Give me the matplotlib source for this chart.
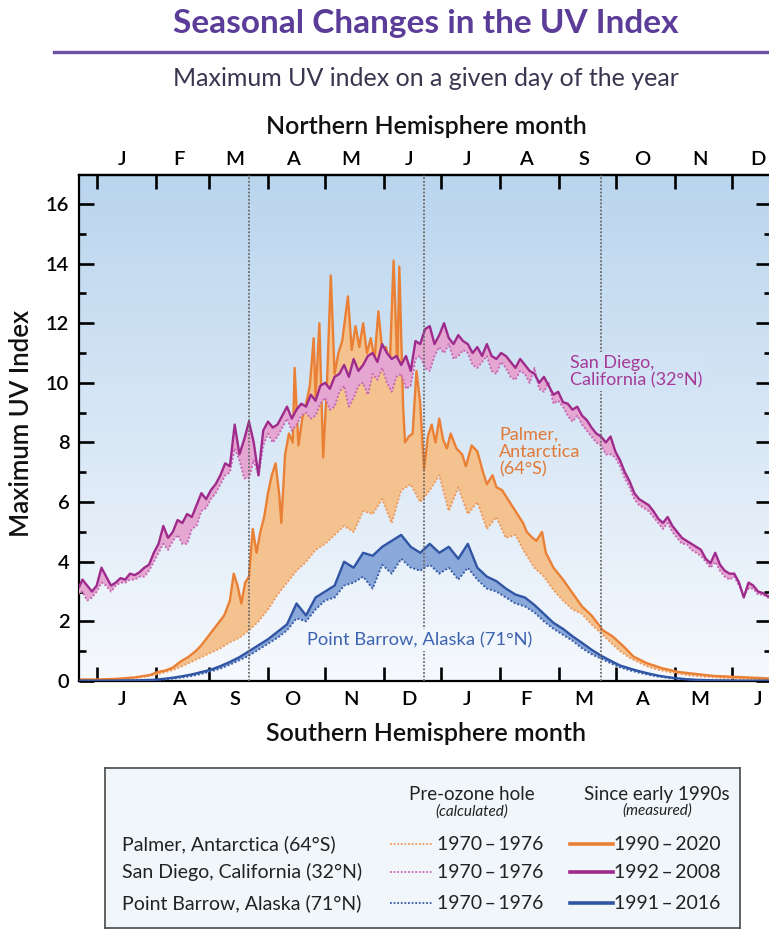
import numpy as np
import matplotlib.pyplot as plt
from matplotlib.colors import LinearSegmentedColormap
from matplotlib.lines import Line2D

plt.rcParams['font.family'] = ['Lato', 'DejaVu Sans']

# day of year on the Northern Hemisphere calendar (0 = Jan 1), every 5 days
days = list(range(-10, 356, 5))
# San Diego is read at a finer step (every 2.5 days) to keep its jitter
sd_days = list(np.arange(-10, 355.1, 2.5))

# San Diego, California (32N)
sd_measured = [3.05, 3.4, 3.2, 3.0, 3.2, 3.8, 3.5, 3.2, 3.3, 3.45,
               3.4, 3.6, 3.55, 3.65, 3.8, 3.9, 4.3, 4.6, 5.2, 4.8,
               5.0, 5.4, 5.3, 5.6, 5.5, 5.9, 6.3, 6.1, 6.4, 6.6,
               6.9, 7.3, 7.2, 8.6, 7.6, 8.1, 8.7, 8.0, 6.9, 8.4,
               8.7, 8.5, 8.6, 8.9, 9.2, 8.8, 9.1, 9.3, 9.2, 9.6,
               9.4, 9.9, 10.0, 9.8, 10.2, 10.3, 10.6, 10.2, 10.8, 10.4,
               10.6, 10.9, 11.0, 10.7, 11.3, 11.0, 10.8, 10.9, 10.6, 10.9,
               10.4, 11.4, 11.3, 11.8, 11.9, 11.3, 11.6, 12.0, 11.5, 11.3,
               11.6, 11.4, 11.3, 11.0, 11.2, 10.9, 11.3, 10.9, 10.8, 11.0,
               10.9, 10.7, 10.5, 10.8, 10.6, 10.4, 10.3, 10.0, 10.2, 9.9,
               9.6, 9.7, 9.35, 9.3, 9.1, 9.2, 8.9, 8.75, 8.5, 8.3,
               8.2, 8.0, 8.2, 7.7, 7.4, 7.0, 6.7, 6.3, 6.1, 6.0,
               5.9, 5.7, 5.45, 5.3, 5.5, 5.2, 5.0, 4.8, 4.7, 4.6,
               4.5, 4.4, 4.1, 3.95, 4.3, 3.9, 3.7, 3.6, 3.6, 3.3,
               2.8, 3.3, 3.2, 3.0, 2.95, 2.85, 2.8]
sd_pre = [2.9, 3.0, 2.7, 2.8, 3.0, 3.3, 3.2, 3.0, 3.2, 3.3,
          3.3, 3.4, 3.4, 3.5, 3.5, 3.7, 4.0, 4.3, 4.6, 4.4,
          4.7, 4.9, 4.6, 4.6, 5.1, 5.2, 5.7, 5.8, 6.1, 6.3,
          6.6, 6.9, 7.0, 7.8, 7.4, 6.8, 6.8, 7.4, 6.9, 7.9,
          8.3, 8.0, 8.2, 8.5, 8.8, 8.4, 8.6, 8.9, 9.0, 8.8,
          8.9, 9.3, 9.5, 9.1, 9.2, 9.7, 9.9, 9.2, 9.5, 9.9,
          10.0, 9.6, 10.3, 10.1, 10.5, 10.0, 9.7, 10.2, 10.3, 9.8,
          9.9, 10.8, 10.9, 10.5, 10.4, 10.9, 11.2, 11.0, 11.3, 10.8,
          10.9, 11.1, 11.0, 10.6, 10.5, 10.7, 10.9, 10.4, 10.3, 10.7,
          10.5, 10.2, 10.1, 10.4, 10.3, 10.0, 10.5, 9.8, 9.7, 10.0,
          9.3, 9.4, 9.2, 8.9, 8.7, 8.9, 8.6, 8.4, 8.2, 8.0,
          7.9, 7.6, 7.6, 7.5, 7.2, 6.8, 6.5, 6.1, 5.9, 5.8,
          5.7, 5.5, 5.3, 5.1, 5.3, 5.0, 4.8, 4.6, 4.6, 4.4,
          4.3, 4.2, 4.0, 3.8, 4.0, 3.7, 3.5, 3.4, 3.5, 3.2,
          2.9, 3.1, 3.1, 2.9, 2.9, 2.8, 2.8]

# Point Barrow, Alaska (71N)
pb_measured = [0.01, 0.01, 0.01, 0.01, 0.01, 0.02, 0.02, 0.03, 0.04, 0.07,
               0.11, 0.16, 0.22, 0.3, 0.38, 0.5, 0.64, 0.8, 1.0, 1.2,
               1.4, 1.65, 1.9, 2.6, 2.2, 2.8, 3.0, 3.2, 4.0, 3.8,
               4.3, 4.2, 4.5, 4.7, 4.9, 4.5, 4.3, 4.6, 4.3, 4.5,
               4.1, 4.6, 3.8, 3.5, 3.35, 3.1, 2.9, 2.8, 2.55, 2.25,
               1.95, 1.75, 1.5, 1.28, 1.05, 0.85, 0.68, 0.52, 0.42, 0.33,
               0.25, 0.18, 0.13, 0.09, 0.06, 0.04, 0.03, 0.02, 0.02, 0.01,
               0.01, 0.01, 0.01, 0.01]
pb_pre = [0.0, 0.0, 0.0, 0.0, 0.0, 0.01, 0.01, 0.02, 0.03, 0.05,
          0.08, 0.12, 0.17, 0.24, 0.32, 0.42, 0.55, 0.7, 0.85, 1.05,
          1.25, 1.45, 1.7, 2.1, 2.0, 2.4, 2.7, 2.8, 3.2, 3.3,
          3.5, 3.1, 3.9, 3.6, 4.1, 3.8, 3.7, 3.9, 3.6, 3.8,
          3.4, 3.8, 3.4, 3.1, 3.0, 2.8, 2.6, 2.5, 2.3, 2.0,
          1.75, 1.55, 1.35, 1.1, 0.9, 0.75, 0.6, 0.46, 0.36, 0.28,
          0.21, 0.15, 0.11, 0.08, 0.05, 0.03, 0.02, 0.01, 0.01, 0.01,
          0.0, 0.0, 0.0, 0.0]

# Palmer, Antarctica (64S), shifted half a year onto the northern calendar
pa_pre = [0.03, 0.03, 0.04, 0.04, 0.05, 0.07, 0.1, 0.14, 0.2, 0.28,
          0.37, 0.5, 0.65, 0.8, 0.95, 1.1, 1.3, 1.45, 1.7, 2.0,
          2.4, 2.9, 3.3, 3.7, 4.0, 4.4, 4.6, 4.9, 5.2, 5.0,
          5.7, 5.6, 6.1, 5.3, 6.4, 6.6, 6.0, 6.4, 6.9, 5.7,
          6.5, 5.6, 6.0, 5.1, 5.5, 4.8, 4.9, 4.3, 3.8, 3.5,
          3.05, 2.7, 2.4, 2.25, 1.9, 1.6, 1.3, 1.0, 0.78, 0.62,
          0.47, 0.38, 0.31, 0.26, 0.2, 0.17, 0.14, 0.12, 0.1, 0.08,
          0.07, 0.06, 0.05, 0.05]
# measured series kept at uneven days so the spikes survive
pa_days = [-10, 0, 10, 20, 28, 32, 36, 40, 44, 48, 52, 55, 58, 61, 64, 67, 70,
           72, 74, 76, 78, 80, 82, 84, 86, 88, 90, 92, 94, 96, 97, 99, 101,
           103, 104, 106, 108, 110, 112, 114, 115, 117, 119, 121, 123, 125,
           127, 129, 132, 134, 136, 138, 140, 142, 144, 146, 148, 150, 152,
           154, 156, 158, 159, 161, 162, 164, 166, 168, 170, 172, 174, 176,
           178, 180, 182, 184, 186, 189, 192, 194, 197, 200, 203, 205, 208,
           210, 213, 215, 218, 221, 224, 226, 229, 231, 234, 236, 240, 245,
           250, 255, 260, 266, 271, 277, 282, 289, 297, 306, 324, 342, 355]
pa_measured = [0.05, 0.05, 0.07, 0.12, 0.2, 0.3, 0.35, 0.45, 0.65, 0.8, 1.0,
               1.2, 1.45, 1.7, 1.95, 2.2, 2.7, 3.6, 3.2, 2.6, 3.3, 3.5, 5.1,
               4.3, 5.0, 5.5, 6.3, 6.9, 7.3, 6.2, 5.3, 7.6, 8.3, 8.0, 10.5,
               7.9, 8.8, 9.3, 9.9, 11.5, 9.5, 12.0, 7.5, 10.0, 13.6, 10.3,
               11.0, 11.4, 12.9, 11.1, 11.9, 11.2, 12.0, 11.0, 11.5, 10.8,
               12.4, 11.1, 11.2, 10.6, 14.1, 10.5, 13.9, 9.2, 8.0, 8.2, 8.3,
               10.4, 9.3, 7.1, 8.2, 8.6, 8.0, 8.8, 8.1, 7.8, 8.3, 7.8, 7.6,
               7.2, 7.9, 7.7, 7.0, 6.6, 6.9, 6.5, 6.4, 6.2, 5.9, 5.6, 5.3,
               5.0, 4.8, 4.7, 5.0, 4.3, 3.8, 3.4, 2.95, 2.5, 2.2, 1.7, 1.5,
               1.15, 0.82, 0.6, 0.43, 0.3, 0.17, 0.12, 0.08]

month_starts = [0, 31, 59, 90, 120, 151, 181, 212, 243, 273, 304, 334]
north_months = ['J', 'F', 'M', 'A', 'M', 'J', 'J', 'A', 'S', 'O', 'N', 'D']
south_months = ['J', 'A', 'S', 'O', 'N', 'D', 'J', 'F', 'M', 'A', 'M', 'J']
equinox_solstice = [80, 172, 265]

W, H = 769, 930
fig = plt.figure(figsize=(W / 100, H / 100), dpi=100)
ax = fig.add_axes([79 / W, 1 - 681 / H, (771 - 79) / W, (681 - 175) / H])

# sky-like background gradient
bg = LinearSegmentedColormap.from_list('bg', ['#f6f9fd', '#bad5ee'])
ax.imshow(np.linspace(0, 1, 256).reshape(-1, 1), extent=[0, 1, 0, 1],
          transform=ax.transAxes, origin='lower', cmap=bg, aspect='auto', zorder=0)


def band(x_meas, y_meas, x_pre, y_pre, line_c, dot_c, fill_c, z):
    x_meas, y_meas = np.asarray(x_meas), np.asarray(y_meas)
    x_pre, y_pre = np.asarray(x_pre), np.asarray(y_pre)
    ax.fill(np.r_[x_meas, x_pre[::-1]], np.r_[y_meas, y_pre[::-1]],
            color=fill_c, lw=0, zorder=z)
    ax.plot(x_pre, y_pre, color=dot_c, lw=1.4, ls=(0, (1, 1)), zorder=z + 0.1)
    ax.plot(x_meas, y_meas, color=line_c, lw=1.7, zorder=z + 0.2)


band(pa_days, pa_measured, days, pa_pre, '#ea8035', '#ef9a5c', '#f4c28e', 2)
band(sd_days, sd_measured, sd_days, sd_pre, '#9e2b8c', '#c668b4', '#e6a6d2', 3)
band(days, pb_measured, days, pb_pre, '#2f55a4', '#3a5ca8', '#8aa9da', 4)

for d in equinox_solstice:
    ax.axvline(d, color='#6a6a6a', lw=1.3, ls=(0, (1, 1)), zorder=5)

ax.set_xlim(-9.3, 354.3)
ax.set_ylim(0, 16.97)

# y axis ticks on both sides
ax.set_yticks(range(0, 17, 2))
ax.set_yticks(range(1, 17, 2), minor=True)
ax.tick_params(axis='y', which='both', direction='in', left=True, right=True,
               width=1.9, labelsize=14.5, pad=7)
ax.tick_params(axis='y', which='major', length=11)
ax.tick_params(axis='y', which='minor', length=5)
for lab in ax.get_yticklabels():
    lab.set_fontweight('semibold')

# month boundaries as ticks, month names centred between them
mids = [(a + b) / 2 - 2 for a, b in zip(month_starts, month_starts[1:] + [365])]
ax.set_xticks(month_starts)
ax.set_xticklabels([])
ax.set_xticks(mids, minor=True)
ax.set_xticklabels(south_months, minor=True, fontsize=14.5, fontweight='semibold')
ax.tick_params(axis='x', which='major', direction='in', length=10, width=1.9)
ax.tick_params(axis='x', which='minor', length=0, pad=7)

top = ax.secondary_xaxis('top')
top.set_xticks(month_starts)
top.set_xticklabels([])
top.set_xticks(mids, minor=True)
top.set_xticklabels(north_months, minor=True, fontsize=14.5, fontweight='semibold')
top.tick_params(axis='x', which='major', direction='in', length=10, width=1.9)
top.tick_params(axis='x', which='minor', length=0, pad=5)

for s in ax.spines.values():
    s.set_linewidth(1.6)
top.spines['top'].set_linewidth(1.6)

# curve labels
ax.text(0.7095, 0.611, 'San Diego,\nCalifornia (32°N)', transform=ax.transAxes,
        color='#a53a98', fontsize=13, va='center', ha='left', linespacing=1.1,
        zorder=6, bbox=dict(boxstyle='square,pad=0.15', fc=bg(0.61), ec='none'))
ax.text(0.607, 0.4526, 'Palmer,\nAntarctica\n(64°S)', transform=ax.transAxes,
        color='#e07a36', fontsize=13, va='center', ha='left', linespacing=1.1,
        zorder=6)
ax.text(0.3295, 0.081, 'Point Barrow, Alaska (71°N)', transform=ax.transAxes,
        color='#3d62b0', fontsize=13.2, va='center', ha='left', zorder=6,
        bbox=dict(boxstyle='square,pad=0.15', fc=bg(0.08), ec='none'))

# titles and axis names
fig.text(0.554, 1 - 23 / H, 'Seasonal Changes in the UV Index', ha='center',
         va='center', fontsize=24, fontweight='bold', color='#5b3c98')
fig.add_artist(Line2D([54 / W, 1], [1 - 52 / H] * 2, color='#6b4fa5', lw=2.4))
fig.text(0.554, 1 - 78 / H, 'Maximum UV index on a given day of the year',
         ha='center', va='center', fontsize=18, color='#3b3550')
fig.text(0.554, 1 - 127 / H, 'Northern Hemisphere month', ha='center',
         va='center', fontsize=18, fontweight='semibold', color='#111111')
fig.text(0.554, 1 - 733 / H, 'Southern Hemisphere month', ha='center',
         va='center', fontsize=18, fontweight='semibold', color='#111111')
fig.text(22 / W, 1 - 423 / H, 'Maximum UV Index', ha='center', va='center',
         rotation=90, fontsize=18.5, fontweight='semibold', color='#111111')

# legend panel
lg = fig.add_axes([105 / W, 2 / H, 635 / W, 160 / H])
lg.set_facecolor('#f1f6fb')
lg.set_xticks([])
lg.set_yticks([])
for s in lg.spines.values():
    s.set_color('#555555')
    s.set_linewidth(1.3)
lg.set_xlim(0, 1)
lg.set_ylim(0, 1)

lg.text(0.577, 0.8375, 'Pre-ozone hole', ha='center', va='center', fontsize=13.5, color='#222')
lg.text(0.578, 0.725, '(calculated)', ha='center', va='center', fontsize=11,
        style='italic', color='#222')
lg.text(0.869, 0.8375, 'Since early 1990s', ha='center', va='center', fontsize=13.5, color='#222')
lg.text(0.869, 0.735, '(measured)', ha='center', va='center', fontsize=11,
        style='italic', color='#222')

rows = [('Palmer, Antarctica (64°S)', '1990\u2009–\u20092020', '#ea8035', '#ef9a5c'),
        ('San Diego, California (32°N)', '1992\u2009–\u20092008', '#9e2b8c', '#c668b4'),
        ('Point Barrow, Alaska (71°N)', '1991\u2009–\u20092016', '#2f55a4', '#3a5ca8')]
row_y = [0.525, 0.35, 0.156]
for (name, span, c_line, c_dot), y in zip(rows, row_y):
    lg.text(0.027, y, name, ha='left', va='center', fontsize=14, color='#222')
    lg.plot([0.449, 0.515], [y, y], color=c_dot, lw=1.3, ls=(0, (1, 1)))
    lg.text(0.523, y, '1970\u2009–\u20091976', ha='left', va='center', fontsize=14, color='#222')
    lg.plot([0.732, 0.8], [y, y], color=c_line, lw=2.6)
    lg.text(0.802, y, span, ha='left', va='center', fontsize=14, color='#222')

fig.savefig('out.png', dpi=100)
